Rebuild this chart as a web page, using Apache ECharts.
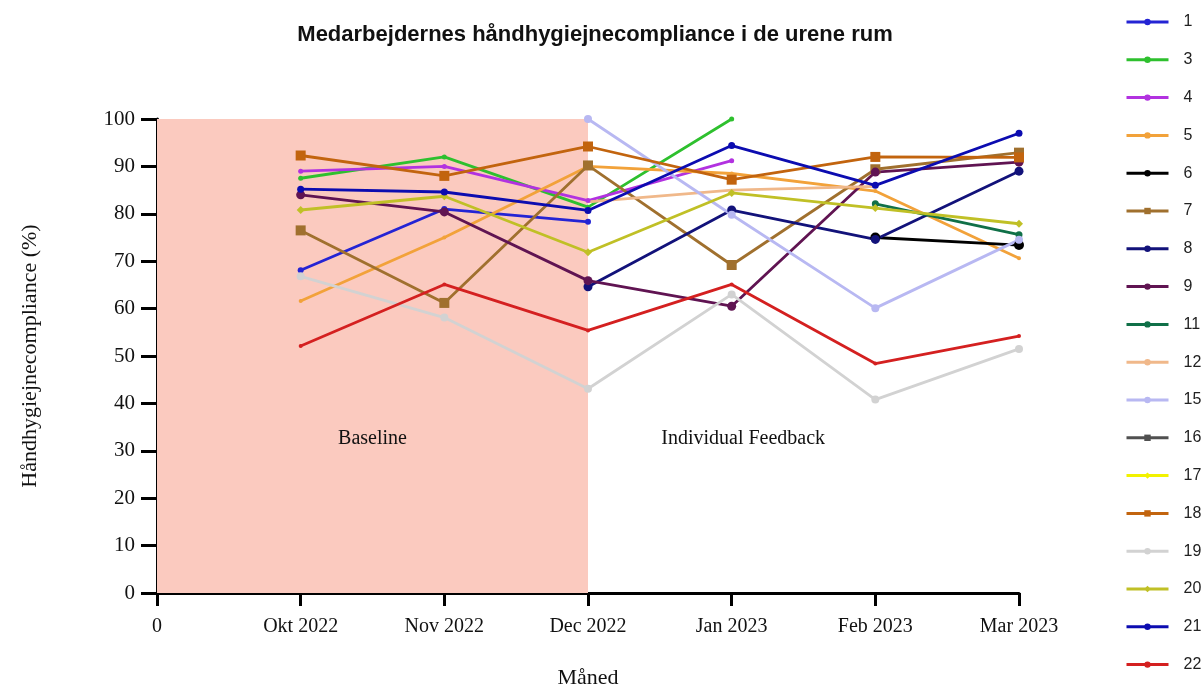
<!DOCTYPE html>
<html lang="da">
<head>
    <meta charset="UTF-8">
    <title>Håndhygiejnecompliance</title>
    <script src="https://cdn.jsdelivr.net/npm/echarts@6/dist/echarts.min.js"></script>
    <style>
        html, body { margin: 0; padding: 0; background: #fff; }
        #chart { width: 1204px; height: 694px; }
    </style>
</head>
<body>
<div id="chart"></div>
<script>
    // x-akse: 0 = start, 1..6 = måneder
    var xLabels = ['0', 'Okt 2022', 'Nov 2022', 'Dec 2022', 'Jan 2023', 'Feb 2023', 'Mar 2023'];
    var yTicks = [0, 100, 10];

    // værdier pr. afsnit (Okt..Mar), null = ingen måling
    var s1  = [68.1, 81.0, 78.3, null, null, null];
    var s3  = [87.5, 92.0, 81.4, 100, null, null];
    var s4  = [89.0, 90.0, 82.8, 91.2, null, null];
    var s5  = [61.6, 75.0, 90.0, 88.5, 84.8, 70.6];
    var s6  = [null, null, null, null, 75.0, 73.4];
    var s7  = [76.5, 61.2, 90.2, 69.2, 89.4, 92.9];
    var s8  = [null, null, 64.6, 80.8, 74.6, 89.0];
    var s9  = [84.0, 80.4, 65.9, 60.5, 88.8, 90.9];
    var s11 = [null, null, null, null, 82.1, 75.6];
    var s12 = [null, null, 82.5, 85.0, 85.8, null];
    var s15 = [null, null, 100, 79.8, 60.1, 74.5];
    var s16 = [null, null, null, null, null, null];
    var s17 = [null, null, null, null, null, null];
    var s18 = [92.3, 88.0, 94.2, 87.2, 92.0, 91.9];
    var s19 = [66.8, 58.1, 43.1, 63.0, 40.8, 51.5];
    var s20 = [80.8, 83.7, 71.9, 84.4, 81.2, 77.9];
    var s21 = [85.2, 84.6, 80.7, 94.4, 86.0, 97.0];
    var s22 = [52.1, 65.1, 55.4, 65.1, 48.4, 54.2];

    var seriesNames = ['1', '3', '4', '5', '6', '7', '8', '9', '11', '12', '15', '16', '17', '18', '19', '20', '21', '22'];
    var seriesData  = [s1, s3, s4, s5, s6, s7, s8, s9, s11, s12, s15, s16, s17, s18, s19, s20, s21, s22];
    var colors = ['#2424d4', '#2ec02e', '#b232e0', '#f2a23a', '#000000', '#a0702e', '#12127a', '#601452',
        '#107048', '#f0b88a', '#b8b8f2', '#505050', '#f2f200', '#c2640e', '#d2d2d2', '#c0c026', '#0c0cb0', '#d42020'];
    var symbols = ['circle', 'circle', 'circle', 'circle', 'circle', 'rect', 'circle', 'circle',
        'circle', 'none', 'circle', 'rect', 'diamond', 'rect', 'circle', 'diamond', 'circle', 'circle'];
    var symSizes = [6, 5, 5, 4, 10, 10, 9, 9, 7, 0, 8, 9, 8, 10, 8, 8, 7, 4];

    var baselineSpan = [0, 3];

    var chart = echarts.init(document.getElementById('chart'));

    var series = [];
    for (var i = 0; i < seriesNames.length; i++) {
        var pts = [];
        for (var j = 0; j < seriesData[i].length; j++) {
            if (seriesData[i][j] !== null) pts.push([j + 1, seriesData[i][j]]);
        }
        series.push({
            name: seriesNames[i],
            type: 'line',
            data: pts,
            color: colors[i],
            symbol: symbols[i],
            symbolSize: symSizes[i],
            showAllSymbol: true,
            lineStyle: { width: 2.8 },
            z: 3
        });
    }

    // baggrund + tekster
    series.push({
        name: 'bg',
        type: 'line',
        data: [],
        silent: true,
        markArea: {
            silent: true,
            itemStyle: { color: '#fbcabf' },
            data: [[{ coord: [baselineSpan[0], yTicks[0]] }, { coord: [baselineSpan[1], yTicks[1]] }]]
        },
        markPoint: {
            symbol: 'circle',
            symbolSize: 0,
            label: {
                show: true,
                color: '#111',
                fontFamily: 'Liberation Serif',
                fontSize: 20,
                formatter: function (p) { return p.name; }
            },
            data: [
                { name: 'Baseline', coord: [1.5, 32.5] },
                { name: 'Individual Feedback', coord: [4.08, 32.5] }
            ]
        },
        z: 1
    });

    var option = {
        backgroundColor: '#fff',
        animation: false,
        title: {
            text: 'Medarbejdernes håndhygiejnecompliance i de urene rum',
            left: 590,
            textAlign: 'center',
            top: 19,
            textStyle: { fontFamily: 'Liberation Sans', fontSize: 22, fontWeight: 'bold', color: '#111' }
        },
        legend: {
            data: seriesNames,
            orient: 'vertical',
            left: 1120,
            top: 9,
            itemWidth: 42,
            itemHeight: 8,
            itemGap: 21.8,
            lineStyle: { width: 3 },
            textStyle: { fontFamily: 'Liberation Sans', fontSize: 16, color: '#222', padding: [0, 0, 0, 10] }
        },
        grid: { left: 157, right: 185, top: 119, bottom: 95 },
        xAxis: {
            type: 'value',
            min: 0,
            max: 6,
            interval: 1,
            name: 'Måned',
            nameLocation: 'middle',
            nameGap: 74,
            nameTextStyle: { fontFamily: 'Liberation Serif', fontSize: 22, color: '#111' },
            axisLine: { onZero: false, lineStyle: { color: '#000', width: 3 } },
            axisTick: { show: true, length: 13, lineStyle: { color: '#000', width: 3 } },
            axisLabel: {
                margin: 24,
                fontFamily: 'Liberation Serif',
                fontSize: 20,
                color: '#111',
                formatter: function (v) { return xLabels[v]; }
            },
            splitLine: { show: false }
        },
        yAxis: {
            type: 'value',
            min: yTicks[0],
            max: yTicks[1],
            interval: yTicks[2],
            name: 'Håndhygiejnecompliance (%)',
            nameLocation: 'middle',
            nameGap: 116,
            nameTextStyle: { fontFamily: 'Liberation Serif', fontSize: 22, color: '#111' },
            axisLine: { show: true, onZero: false, lineStyle: { color: '#000', width: 3 } },
            axisTick: { show: true, length: 16, lineStyle: { color: '#000', width: 3 } },
            axisLabel: { margin: 22, fontFamily: 'Liberation Serif', fontSize: 21, color: '#111' },
            splitLine: { show: false }
        },
        series: series
    };

    chart.setOption(option);
</script>
</body>
</html>
